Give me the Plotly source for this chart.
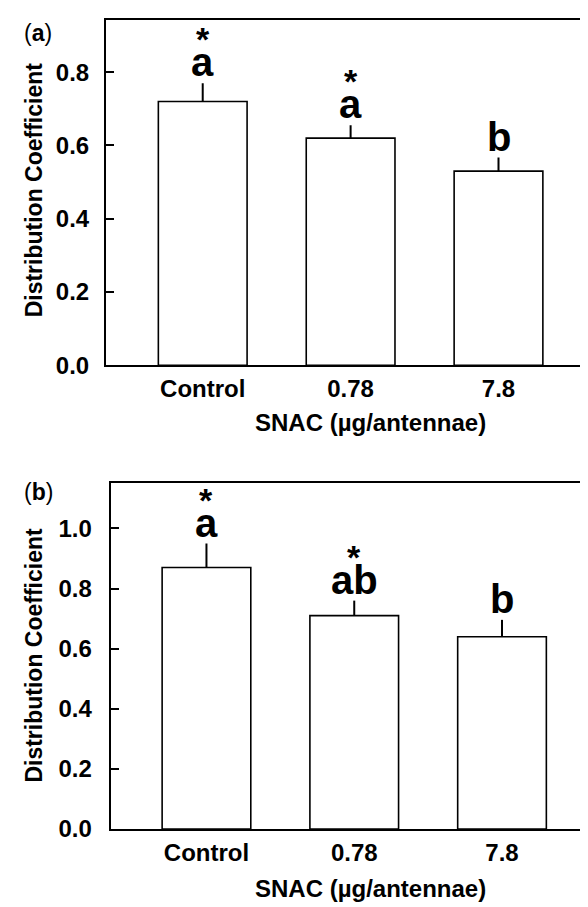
import plotly.graph_objects as go

categories = ["Control", "0.78", "7.8"]

values_a = [0.72, 0.62, 0.53]
errors_a = [0.05, 0.035, 0.037]
letters_a = ["a", "a", "b"]
stars_a = ["*", "*", ""]

values_b = [0.87, 0.71, 0.64]
errors_b = [0.08, 0.05, 0.056]
letters_b = ["a", "ab", "b"]
stars_b = ["*", "*", ""]

yticks_a = [0.0, 0.2, 0.4, 0.6, 0.8]
yticks_b = [0.0, 0.2, 0.4, 0.6, 0.8, 1.0]

y_title = "Distribution Coefficient"
x_title = "SNAC (µg/antennae)"

FONT = "Liberation Sans, Arial, sans-serif"
W, H = 588, 907

fig = go.Figure()

def add_bars(vals, errs, xa, ya):
    fig.add_trace(go.Bar(
        x=list(range(len(categories))), y=vals,
        width=0.6,
        marker=dict(color="white", line=dict(color="black", width=1.6)),
        error_y=dict(type="data", array=errs, arrayminus=[0] * len(errs),
                     symmetric=False, width=0, thickness=2, color="black"),
        xaxis=xa, yaxis=ya, showlegend=False,
    ))

add_bars(values_a, errors_a, "x", "y")
add_bars(values_b, errors_b, "x2", "y2")

common_x = dict(
    tickmode="array", tickvals=list(range(len(categories))), ticktext=categories,
    showline=True, linecolor="black", linewidth=2, ticks="", showgrid=False,
    zeroline=False, tickfont=dict(family=FONT, size=24, color="black", weight="bold"),
    ticklabelstandoff=1,
)
common_y = dict(
    showline=True, linecolor="black", linewidth=2, ticks="inside", ticklen=8,
    tickwidth=2, tickcolor="black", showgrid=False, zeroline=False,
    tickformat=".1f", tickfont=dict(family=FONT, size=24, color="black", weight="bold"),
)

fig.update_layout(
    width=W, height=H, margin=dict(l=0, r=0, t=0, b=0),
    paper_bgcolor="white", plot_bgcolor="white",
    font=dict(family=FONT, color="black"),
    xaxis=dict(domain=[98 / W, 585 / W], range=[-0.654, 2.639], mirror=True,
               anchor="y", **common_x),
    yaxis=dict(domain=[1 - 362.5 / H, 1 - 12 / H], range=[0, 0.943], mirror=True,
               anchor="x", tickvals=yticks_a, ticklabelstandoff=10, **common_y),
    xaxis2=dict(domain=[102.7 / W, 1.0], range=[-0.648, 2.636], mirror=True,
                anchor="y2", **common_x),
    yaxis2=dict(domain=[1 - 833 / H, 1 - 482 / H], range=[0, 1.151], mirror=False,
                anchor="x2", tickvals=yticks_b, ticklabelstandoff=12, **common_y),
)

anns = []

def add_letters(vals, errs, letters, stars, xr, yr):
    for i, (v, e, L, s) in enumerate(zip(vals, errs, letters, stars)):
        anns.append(dict(x=i, y=v + e, xref=xr, yref=yr, text="<b>%s</b>" % L,
                         showarrow=False, yanchor="bottom", yshift=-3,
                         font=dict(family=FONT, size=40, color="black")))
        if s:
            anns.append(dict(x=i, y=v + e, xref=xr, yref=yr, text="<b>%s</b>" % s,
                             showarrow=False, yanchor="bottom", yshift=23,
                             font=dict(family=FONT, size=34, color="black")))

add_letters(values_a, errors_a, letters_a, stars_a, "x", "y")
add_letters(values_b, errors_b, letters_b, stars_b, "x2", "y2")

for yc in [185, 657]:
    anns.append(dict(x=26 / W, y=1 - yc / H, xref="paper", yref="paper",
                     text="<b>%s</b>" % y_title, textangle=-90, showarrow=False,
                     xanchor="center", yanchor="middle",
                     font=dict(family=FONT, size=23, color="black")))

for yc in [421, 893]:
    anns.append(dict(x=362 / W, y=1 - yc / H, xref="paper", yref="paper",
                     text="<b>%s</b>" % x_title, showarrow=False,
                     xanchor="center", yanchor="middle",
                     font=dict(family=FONT, size=24, color="black")))

for yc, lab in [(25, "a"), (491, "b")]:
    anns.append(dict(x=14 / W, y=1 - yc / H, xref="paper", yref="paper",
                     text="(<b>%s</b>)" % lab, showarrow=False,
                     xanchor="left", yanchor="middle",
                     font=dict(family=FONT, size=23, color="black")))

fig.update_layout(annotations=anns)
fig.write_html("out.html")
